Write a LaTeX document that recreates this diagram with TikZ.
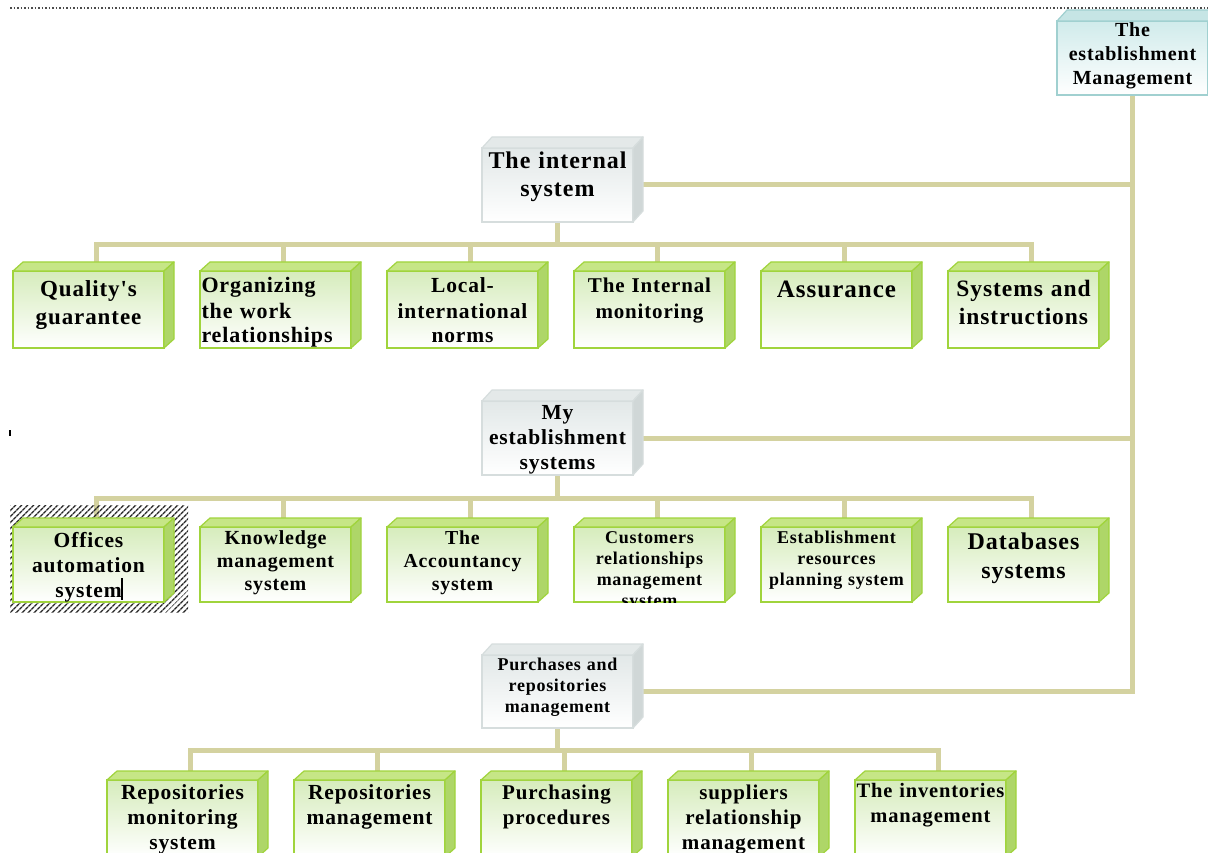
\documentclass[tikz,border=0pt]{standalone}
\usepackage{fontspec}
\setmainfont{Liberation Serif}
\newfontfamily\boxfont[LetterSpace=4]{Liberation Serif}
\usetikzlibrary{positioning,backgrounds,patterns.meta}

\definecolor{wirekhaki}{RGB}{212,210,160}
\definecolor{gborder}{RGB}{160,212,60}
\definecolor{gtop}{RGB}{198,230,134}
\definecolor{gside}{RGB}{174,214,104}
\definecolor{gfront}{RGB}{214,236,188}
\definecolor{greyborder}{RGB}{214,221,221}
\definecolor{greytop}{RGB}{228,233,233}
\definecolor{greyside}{RGB}{208,215,215}
\definecolor{greyfront}{RGB}{226,232,232}
\definecolor{headborder}{RGB}{160,208,208}
\definecolor{headtop}{RGB}{198,229,229}
\definecolor{headfront}{RGB}{208,235,235}

\begin{document}
\begin{tikzpicture}[%
        x=1pt,y=-1pt,
        node distance=36pt,
        box/.style={%
          draw,
          line width=1.2pt,
          inner sep=0pt,
          outer sep=0pt,
          minimum width=151pt,
          text width=148pt,
          align=center,
          anchor=north west
        },
        greenbox/.style={box,draw=gborder,top color=gfront,bottom color=white},
        greybox/.style={box,draw=greyborder,top color=greyfront,bottom color=white},
        headbox/.style={box,draw=headborder,top color=headfront,bottom color=white},
        sz/.style 2 args={font=\boxfont\bfseries\fontsize{#1}{#2}\selectfont},
        txt/.style 2 args={text height=#1,text depth=#2},
        wire/.style={draw=wirekhaki,line width=5pt,line cap=rect}
      ]
      \useasboundingbox (0,0) rectangle (1208,853);
      \clip (0,0) rectangle (1208,853);

      % top of the tree
      \node[headbox,sz={20}{24},txt={16pt}{58pt}] (mgmt) at (1057,21) {The\\establishment\\Management};

      % the three systems
      \node[greybox,sz={24}{28},txt={21pt}{53pt}] (internal) at (482,148) {The internal\\system};
      \node[greybox,sz={21.5}{25},txt={18pt}{56pt}] (mysys) at (482,401) {My\\establishment\\systems};
      \node[greybox,sz={18}{21},txt={15pt}{58pt}] (purchmgmt) at (482,655) {Purchases and\\repositories\\management};

      % first row
      \node[greenbox,sz={23}{28},txt={26pt}{51pt}] (quality) at (13,271) {Quality's\\guarantee};
      \node[greenbox,sz={22}{25},txt={22pt}{55pt},align=left,right=of quality] (organize) {Organizing\\the work\\relationships};
      \node[greenbox,sz={21.5}{25},txt={22pt}{55pt},right=of organize] (norms) {Local-\\international\\norms};
      \node[greenbox,sz={21}{25},txt={22pt}{55pt},right=of norms] (monitor) {The Internal\\monitoring};
      \node[greenbox,sz={25}{28},txt={27pt}{50pt},right=of monitor] (assure) {Assurance};
      \node[greenbox,sz={23.5}{28},txt={26pt}{51pt},right=of assure] (instruct) {Systems and\\instructions};

      % second row
      \fill[pattern={Lines[angle=45,distance=4pt,line width=1.5pt]},pattern color=black!85] (10,505) rectangle (188,612);
      \node[greenbox,sz={21.5}{25},txt={20pt}{55pt}] (office) at (13,527) {Offices\\automation\\system};
      \node[greenbox,sz={20}{23},txt={17pt}{58pt},right=of office] (knowledge) {Knowledge\\management\\system};
      \node[greenbox,sz={19.8}{23},txt={17pt}{58pt},right=of knowledge] (account) {The\\Accountancy\\system};
      \begin{scope}
        \clip (560,515) rectangle (740,602.5);
        \node[greenbox,sz={18}{21},txt={16pt}{59pt},right=of account] (crm) {Customers\\relationships\\management\\system};
      \end{scope}
      \node[greenbox,sz={18}{21},txt={16pt}{59pt},right=of crm] (erp) {Establishment\\resources\\planning system};
      \node[greenbox,sz={24}{29},txt={22pt}{53pt},right=of erp] (database) {Databases\\systems};
      \draw[line width=2pt] (122,578) -- (122,600);
      \draw[line width=1.5pt] (10,430) -- (10,436);

      % third row
      \node[greenbox,sz={21.5}{25},txt={19pt}{58pt}] (repmon) at (107,780) {Repositories\\monitoring\\system};
      \node[greenbox,sz={21.5}{25},txt={19pt}{58pt},right=of repmon] (repman) {Repositories\\management};
      \node[greenbox,sz={21}{25},txt={19pt}{58pt},right=of repman] (purchase) {Purchasing\\procedures};
      \node[greenbox,sz={21}{25},txt={19pt}{58pt},right=of purchase] (supplier) {suppliers\\relationship\\management};
      \node[greenbox,sz={20.5}{25},txt={17pt}{60pt},right=of supplier] (inventory) {The inventories\\management};

      % box tops and sides
      \foreach \n in {quality,organize,norms,monitor,assure,instruct,office,knowledge,account,crm,erp,database,repmon,repman,purchase,supplier,inventory}{
        \filldraw[draw=gborder,fill=gtop,line width=1.2pt,line join=round]
          (\n.north west) -- ++(10,-9) -- ([shift={(10,-9)}]\n.north east) -- (\n.north east) -- cycle;
        \filldraw[draw=gborder,fill=gside,line width=1.2pt,line join=round]
          (\n.north east) -- ++(10,-9) -- ([shift={(10,-9)}]\n.south east) -- (\n.south east) -- cycle;
        \coordinate (\n-top) at ([xshift=8pt]\n.north);
      }
      \foreach \n in {internal,mysys,purchmgmt}{
        \filldraw[draw=greyborder,fill=greytop,line width=1.2pt,line join=round]
          (\n.north west) -- ++(10,-11) -- ([shift={(10,-11)}]\n.north east) -- (\n.north east) -- cycle;
        \filldraw[draw=greyborder,fill=greyside,line width=1.2pt,line join=round]
          (\n.north east) -- ++(10,-11) -- ([shift={(10,-11)}]\n.south east) -- (\n.south east) -- cycle;
      }
      \filldraw[draw=headborder,fill=headtop,line width=1.2pt,line join=round]
        (mgmt.north west) -- ++(10,-11) -- ([shift={(10,-11)}]mgmt.north east) -- (mgmt.north east) -- cycle;
      \draw[black!70,line width=1.2pt,dash pattern=on 1.5pt off 2pt] (10,8) -- (1208,8);

      % connectors
      \coordinate (bus1) at (0,245);
      \coordinate (bus2) at (0,498);
      \coordinate (bus3) at (0,750);
      \begin{scope}[on background layer]
        \fill[white] (0,0) rectangle (1208,853);
        \draw[wire] (mgmt.south) -- (mgmt.south |- purchmgmt.east) -- (purchmgmt.east);
        \draw[wire] (internal.east) -- (internal.east -| mgmt.south);
        \draw[wire] (mysys.east) -- (mysys.east -| mgmt.south);
        \draw[wire] (internal.south) -- (internal.south |- bus1);
        \draw[wire] (mysys.south) -- (mysys.south |- bus2);
        \draw[wire] (purchmgmt.south) -- (purchmgmt.south |- bus3);
        \draw[wire] (quality-top |- bus1) -- (instruct-top |- bus1);
        \draw[wire] (office-top |- bus2) -- (database-top |- bus2);
        \draw[wire] (repmon-top |- bus3) -- (inventory-top |- bus3);
        \foreach \n in {quality,organize,norms,monitor,assure,instruct}
          \draw[wire] (\n-top) -- (\n-top |- bus1);
        \foreach \n in {office,knowledge,account,crm,erp,database}
          \draw[wire] (\n-top) -- (\n-top |- bus2);
        \foreach \n in {repmon,repman,purchase,supplier,inventory}
          \draw[wire] (\n-top) -- (\n-top |- bus3);
      \end{scope}
  \end{tikzpicture}
\end{document}
